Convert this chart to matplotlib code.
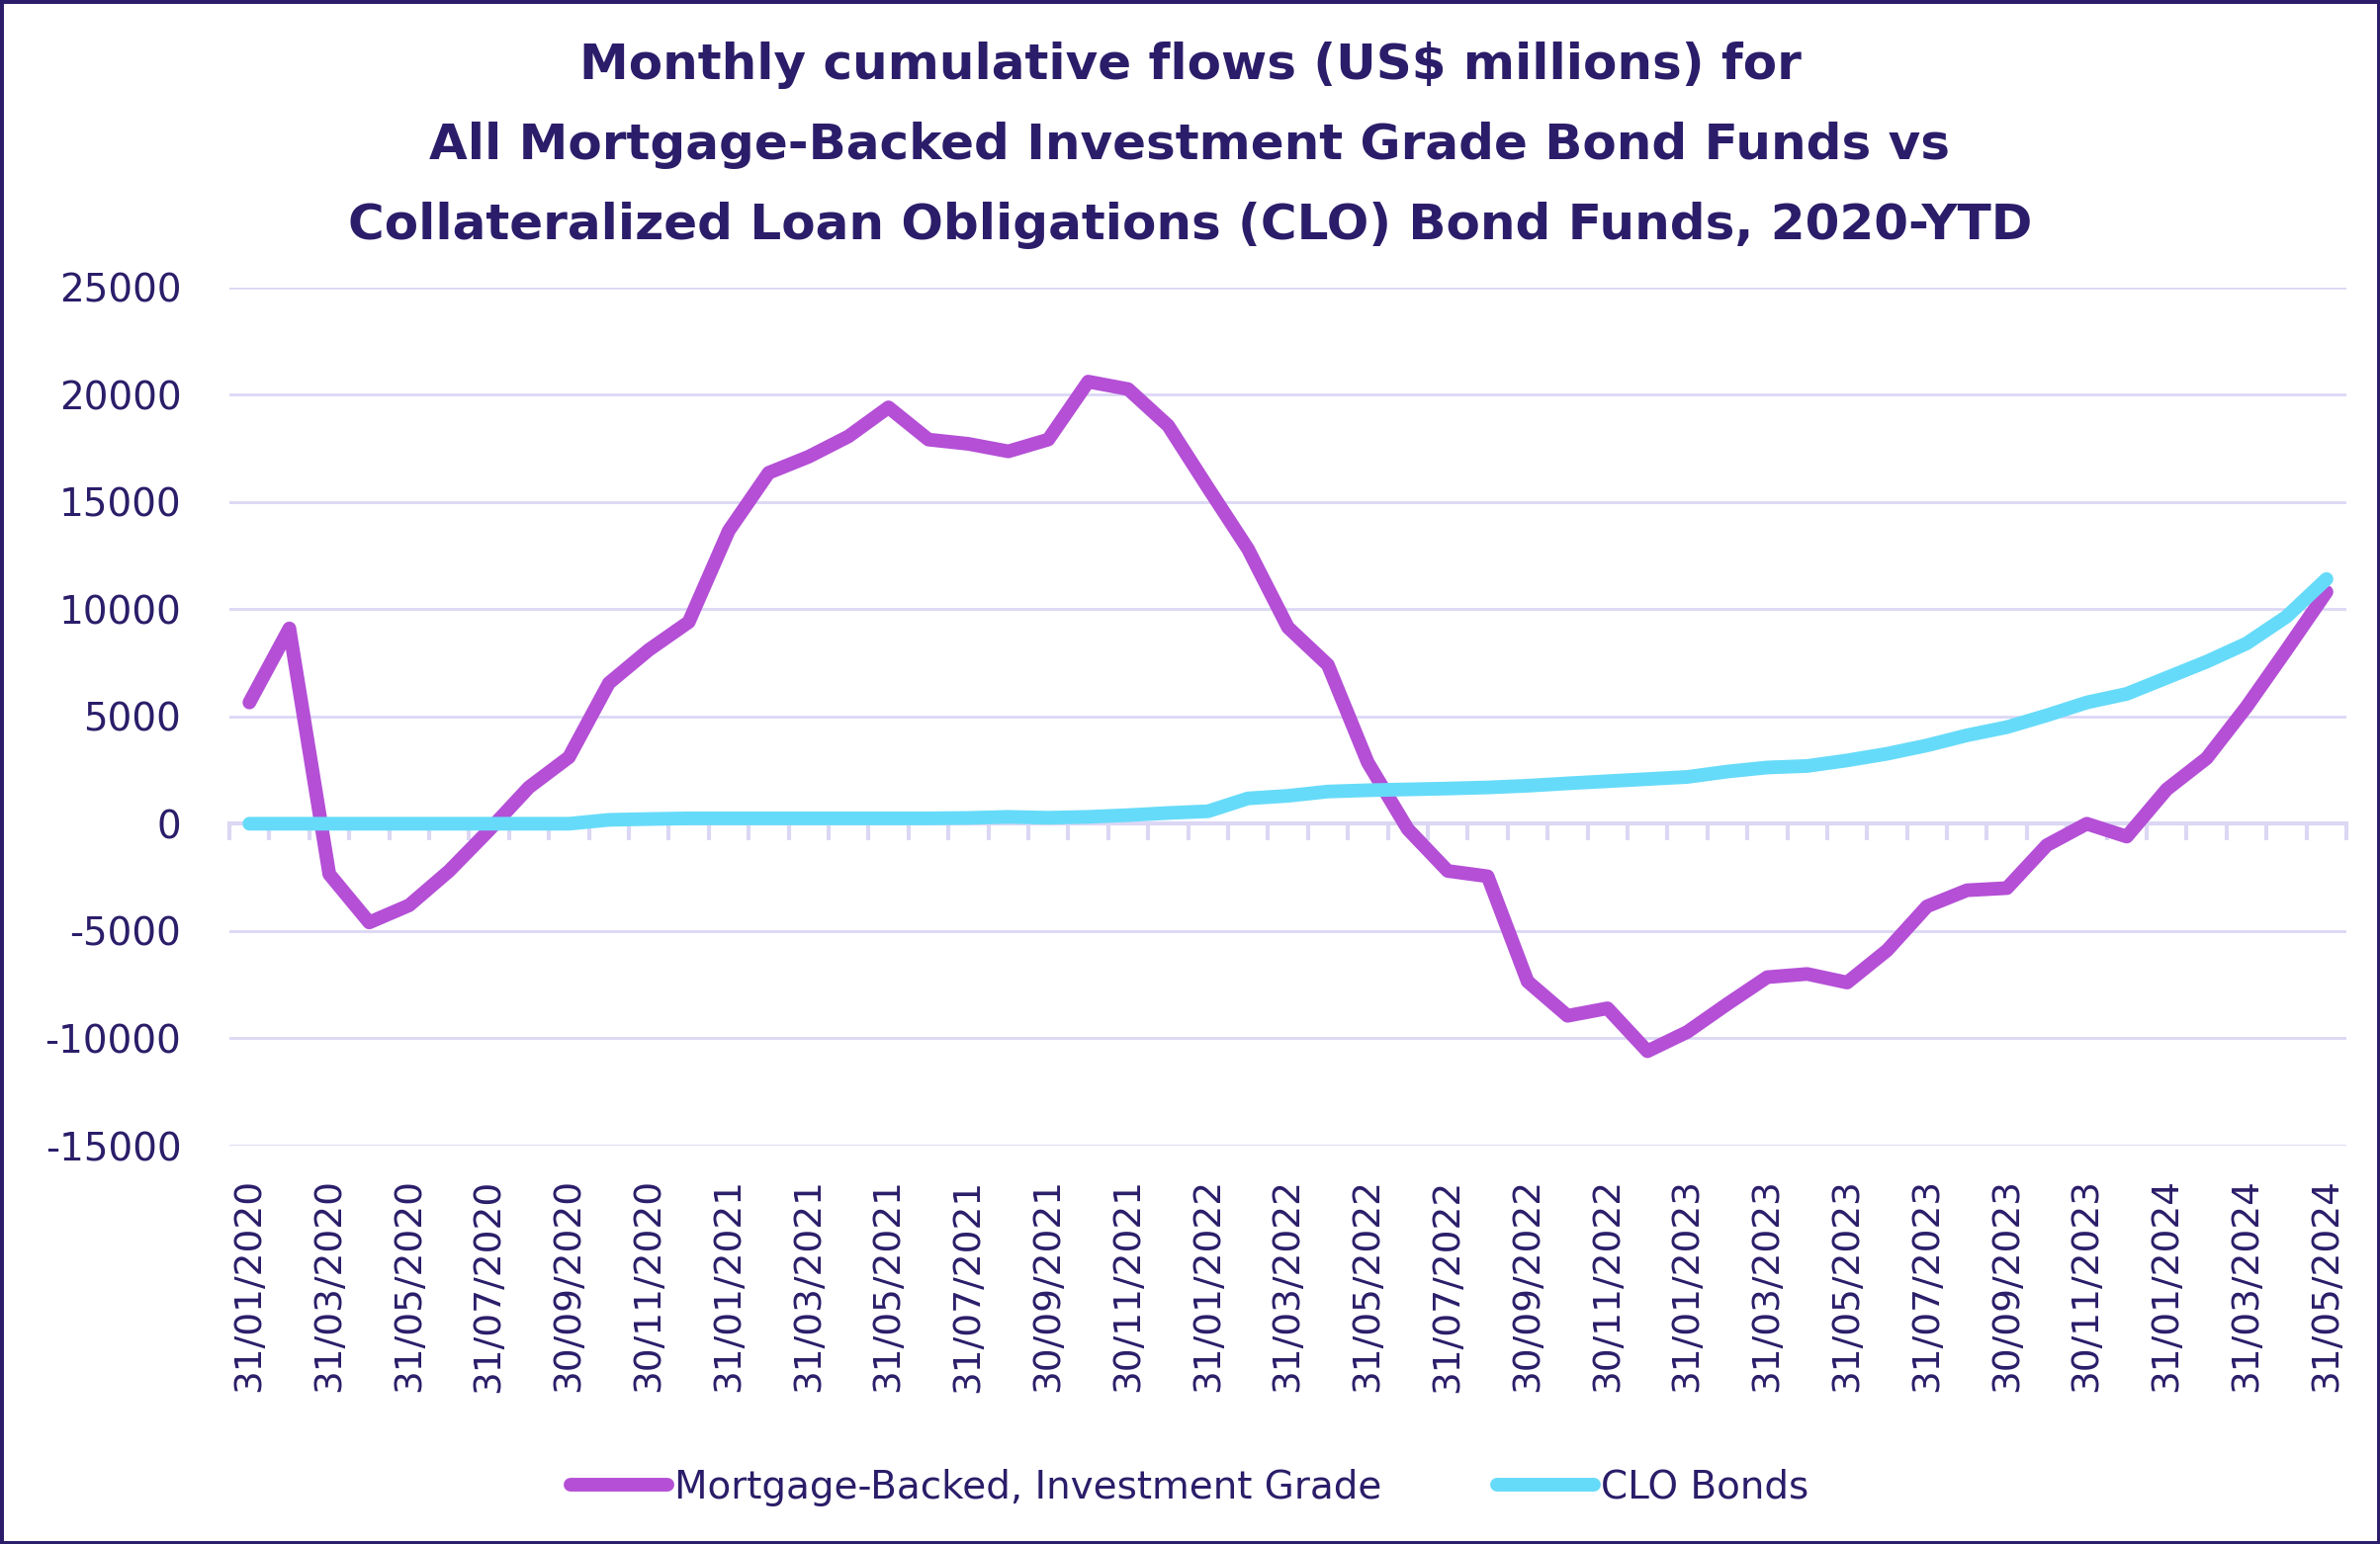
import numpy as np
import pandas as pd
import matplotlib
matplotlib.use("Agg")
import matplotlib.pyplot as plt
from matplotlib.patches import Rectangle

# --- DATA ---
dates = pd.date_range("2020-01-31", periods=53, freq="ME").strftime("%d/%m/%Y").tolist()

mbs = [5650, 9100, -2350, -4600, -3800, -2200, -300, 1700, 3100, 6550,
       8100, 9400, 13650, 16350, 17100, 18050, 19400, 17900, 17700, 17350,
       17900, 20600, 20250, 18550, 15650, 12800, 9150, 7400, 2850, -250,
       -2200, -2450, -7350, -8950, -8600, -10600, -9700, -8400, -7150, -7000,
       -7400, -5900, -3850, -3100, -3000, -1000, 0, -600, 1600, 3050,
       5450, 8100, 10800]

clo = [0, 0, 0, 0, 0, 0, 0, 0, 0, 180,
       220, 250, 250, 250, 250, 250, 250, 250, 270, 320,
       280, 320, 400, 500, 580, 1180, 1300, 1500, 1560, 1600,
       1640, 1690, 1770, 1880, 1980, 2080, 2180, 2430, 2620, 2690,
       2950, 3260, 3650, 4120, 4500, 5050, 5650, 6050, 6800, 7550,
       8400, 9650, 11400]

series_names = ["Mortgage-Backed, Investment Grade", "CLO Bonds"]
yticks = [-15000, -10000, -5000, 0, 5000, 10000, 15000, 20000, 25000]

# --- STYLE ---
NAVY = "#2b1d69"
PURPLE = "#b44fd6"
CYAN = "#66dbf9"
GRID = "#dcd7f4"

plt.rcParams["font.family"] = ["DejaVu Sans"]

fig = plt.figure(figsize=(24.07, 15.62), dpi=100)
ax = fig.add_axes([0.0964, 0.2580, 0.9859 - 0.0964, 0.8140 - 0.2580])

x = np.arange(len(dates))
lw = 10
ax.plot(x, mbs, color=PURPLE, lw=lw, solid_capstyle="round", solid_joinstyle="round",
        label=series_names[0], zorder=3)
ax.plot(x, clo, color=CYAN, lw=lw, solid_capstyle="round", solid_joinstyle="round",
        label=series_names[1], zorder=3)

ax.set_xlim(-0.5, len(dates) - 0.5)
ax.set_ylim(-15000, 25000)
ax.set_yticks(yticks)
ax.set_yticklabels([str(v) for v in yticks])
ax.yaxis.grid(True, color=GRID, lw=2.0)
ax.set_axisbelow(True)
for s in ax.spines.values():
    s.set_visible(False)

ax.tick_params(axis="y", length=0, pad=35, labelsize=28, labelcolor=NAVY)
ax.set_xticks(x[::2])
ax.set_xticklabels(dates[::2], rotation=90, va="top", ha="center")
ax.tick_params(axis="x", length=0, pad=24, labelsize=27, labelcolor=NAVY)

# zero axis line with category ticks
sec = ax.secondary_xaxis(15000 / 40000)
sec.set_xticks(np.arange(-0.5, len(dates), 1))
sec.set_xticklabels([])
sec.tick_params(axis="x", length=12, width=3, color=GRID, direction="out")
sec.spines["bottom"].set_color(GRID)
sec.spines["bottom"].set_linewidth(3)

fig.text(0.5, 0.958, "Monthly cumulative flows (US$ millions) for", ha="center", va="center",
         fontsize=36, fontweight="bold", color=NAVY)
fig.text(0.5, 0.906, "All Mortgage-Backed Investment Grade Bond Funds vs", ha="center", va="center",
         fontsize=36, fontweight="bold", color=NAVY)
fig.text(0.5, 0.854, "Collateralized Loan Obligations (CLO) Bond Funds, 2020-YTD", ha="center",
         va="center", fontsize=36, fontweight="bold", color=NAVY)

leg = fig.legend(loc="center", bbox_to_anchor=(0.5, 0.0365), ncol=2, frameon=False,
                 fontsize=28, handlelength=2.5, handletextpad=0.2, columnspacing=3.0,
                 labelcolor=NAVY)
for h in leg.get_lines():
    h.set_linewidth(10)
    h.set_solid_capstyle("round")

fig.patches.append(Rectangle((0, 0), 1, 1, transform=fig.transFigure, fill=False,
                             lw=5, edgecolor=NAVY))

fig.savefig("out.png", dpi=100)
